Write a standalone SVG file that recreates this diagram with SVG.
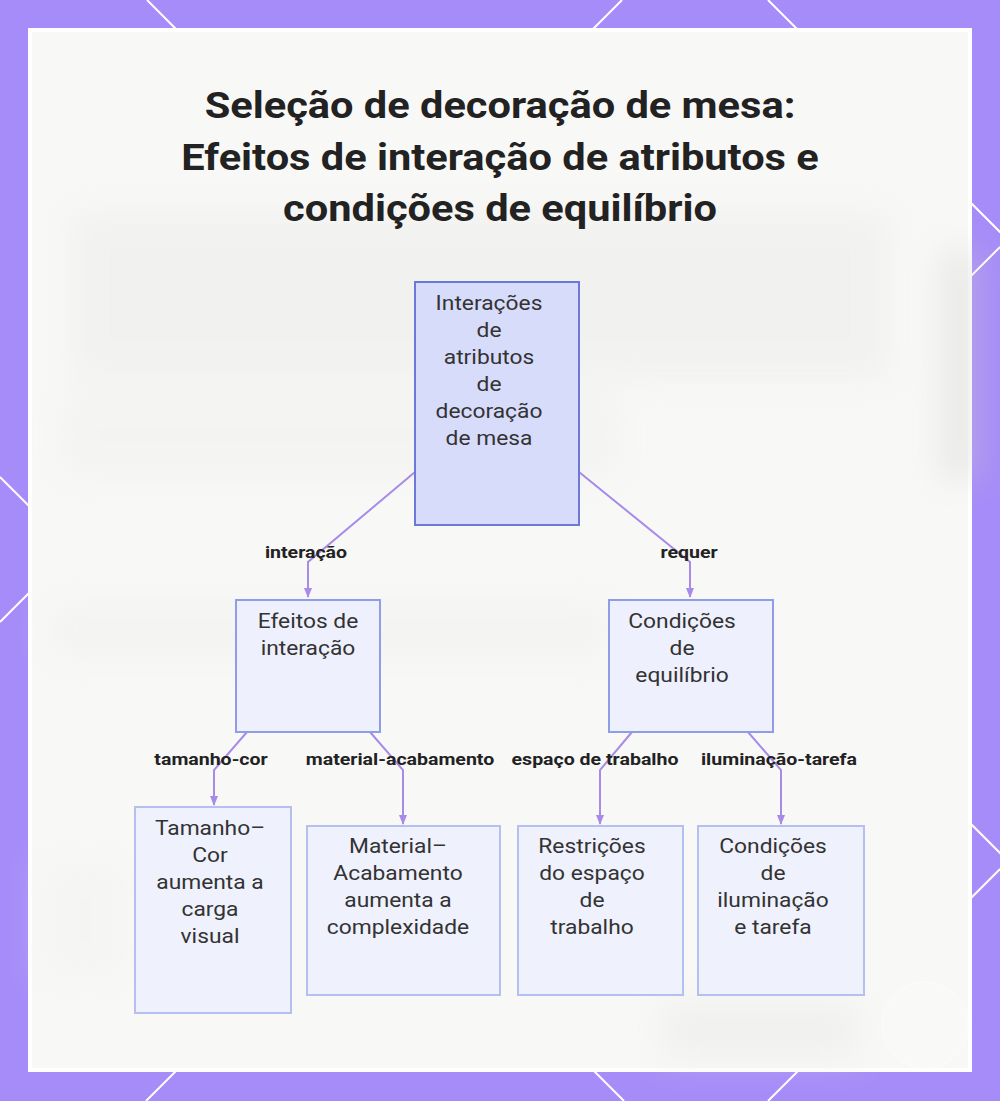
<svg xmlns="http://www.w3.org/2000/svg" width="1000" height="1101" viewBox="0 0 1000 1101">
<defs>
<style>
.title{font-family:Roboto,"Liberation Sans",sans-serif;font-weight:700;font-size:36px;fill:#222;text-anchor:middle}
.nt{font-family:Roboto,"Liberation Sans",sans-serif;font-size:20px;fill:#333;text-anchor:middle}
.el{font-family:Roboto,"Liberation Sans",sans-serif;font-weight:700;font-size:17px;fill:#222;text-anchor:middle}
.edge{fill:none;stroke:#a88be9;stroke-width:2}
.n0{fill:#d8dcfb;stroke:#6d79d8;stroke-width:2}
.n1{fill:#eef1fd;stroke:#8f9ce6;stroke-width:2}
.n2{fill:#eff1fd;stroke:#b6bff1;stroke-width:2}
.lat{stroke:#ffffff;stroke-width:2}
</style>
<marker id="arr" viewBox="0 0 10 10" refX="9" refY="5" markerWidth="5" markerHeight="5" orient="auto">
<path d="M0,1 L10,5 L0,9 z" fill="#a88be9"/>
</marker>
<filter id="blur" x="-20%" y="-20%" width="140%" height="140%"><feGaussianBlur stdDeviation="16"/></filter>
</defs>
<rect x="0" y="0" width="1000" height="1101" fill="#a68cf8"/>
<g id="lattice">
<line class="lat" x1="147" y1="0" x2="1248" y2="1101"/>
<line class="lat" x1="768" y1="0" x2="1869" y2="1101"/>
<line class="lat" x1="0" y1="477" x2="624" y2="1101"/>
<line class="lat" x1="622" y1="0" x2="0" y2="622"/>
<line class="lat" x1="1000" y1="247" x2="146" y2="1101"/>
<line class="lat" x1="1000" y1="869" x2="768" y2="1101"/>
</g>
<rect x="28" y="28" width="944" height="1044" fill="#ffffff"/>
<rect x="32" y="32" width="936" height="1036" fill="#f8f8f7"/>
<g id="photo" filter="url(#blur)" opacity="0.35">
<rect x="70" y="210" width="820" height="170" fill="#e6e6e4"/>
<rect x="60" y="390" width="560" height="90" fill="#ececea"/>
<rect x="940" y="250" width="40" height="230" fill="#cfcfcd"/>
<rect x="50" y="600" width="560" height="60" fill="#ececeb"/>
<rect x="660" y="1000" width="200" height="60" fill="#e4e4e2"/>
<rect x="40" y="860" width="90" height="120" fill="#efefed"/>
</g>
<circle cx="925" cy="1025" r="43" fill="#f9f9f8" stroke="#fbfbfb" stroke-width="1.5"/>
<g id="title">
<text class="title" transform="matrix(1.155 0 0 1 500 118)">Seleção de decoração de mesa:</text>
<text class="title" transform="matrix(1.155 0 0 1 500 170)">Efeitos de interação de atributos e</text>
<text class="title" transform="matrix(1.155 0 0 1 500 221)">condições de equilíbrio</text>
</g>
<g id="connectors">
<path class="edge" d="M415,472 L308,562 L308,597" marker-end="url(#arr)"/>
<path class="edge" d="M579,472 L690,562 L690,597" marker-end="url(#arr)"/>
<path class="edge" d="M247,732 L214,770 L214,805" marker-end="url(#arr)"/>
<path class="edge" d="M370,732 L403,770 L403,824" marker-end="url(#arr)"/>
<path class="edge" d="M632,732 L600,770 L600,824" marker-end="url(#arr)"/>
<path class="edge" d="M748,732 L781,770 L781,824" marker-end="url(#arr)"/>
<text class="el" transform="matrix(1.15 0 0 1 306 558)">interação</text>
<text class="el" transform="matrix(1.15 0 0 1 689 558)">requer</text>
<text class="el" transform="matrix(1.15 0 0 1 211 765)">tamanho-cor</text>
<text class="el" transform="matrix(1.15 0 0 1 400 765)">material-acabamento</text>
<text class="el" transform="matrix(1.15 0 0 1 595 765)">espaço de trabalho</text>
<text class="el" transform="matrix(1.15 0 0 1 779 765)">iluminação-tarefa</text>
</g>
<g id="n-root">
<rect class="n0" x="415" y="282" width="164" height="243"/>
<text class="nt" transform="matrix(1.14 0 0 1 489 310)">Interações</text>
<text class="nt" transform="matrix(1.14 0 0 1 489 337)">de</text>
<text class="nt" transform="matrix(1.14 0 0 1 489 364)">atributos</text>
<text class="nt" transform="matrix(1.14 0 0 1 489 391)">de</text>
<text class="nt" transform="matrix(1.14 0 0 1 489 418)">decoração</text>
<text class="nt" transform="matrix(1.14 0 0 1 489 445)">de mesa</text>
</g>
<g id="n-efeitos">
<rect class="n1" x="236" y="600" width="144" height="132"/>
<text class="nt" transform="matrix(1.14 0 0 1 308 628)">Efeitos de</text>
<text class="nt" transform="matrix(1.14 0 0 1 308 655)">interação</text>
</g>
<g id="n-condicoes">
<rect class="n1" x="609" y="600" width="164" height="132"/>
<text class="nt" transform="matrix(1.14 0 0 1 682 628)">Condições</text>
<text class="nt" transform="matrix(1.14 0 0 1 682 655)">de</text>
<text class="nt" transform="matrix(1.14 0 0 1 682 682)">equilíbrio</text>
</g>
<g id="n-tamanho">
<rect class="n2" x="135" y="807" width="156" height="206"/>
<text class="nt" transform="matrix(1.14 0 0 1 210 835)">Tamanho–</text>
<text class="nt" transform="matrix(1.14 0 0 1 210 862)">Cor</text>
<text class="nt" transform="matrix(1.14 0 0 1 210 889)">aumenta a</text>
<text class="nt" transform="matrix(1.14 0 0 1 210 916)">carga</text>
<text class="nt" transform="matrix(1.14 0 0 1 210 943)">visual</text>
</g>
<g id="n-material">
<rect class="n2" x="307" y="826" width="193" height="169"/>
<text class="nt" transform="matrix(1.14 0 0 1 398 853)">Material–</text>
<text class="nt" transform="matrix(1.14 0 0 1 398 880)">Acabamento</text>
<text class="nt" transform="matrix(1.14 0 0 1 398 907)">aumenta a</text>
<text class="nt" transform="matrix(1.14 0 0 1 398 934)">complexidade</text>
</g>
<g id="n-restricoes">
<rect class="n2" x="518" y="826" width="165" height="169"/>
<text class="nt" transform="matrix(1.14 0 0 1 592 853)">Restrições</text>
<text class="nt" transform="matrix(1.14 0 0 1 592 880)">do espaço</text>
<text class="nt" transform="matrix(1.14 0 0 1 592 907)">de</text>
<text class="nt" transform="matrix(1.14 0 0 1 592 934)">trabalho</text>
</g>
<g id="n-iluminacao">
<rect class="n2" x="698" y="826" width="166" height="169"/>
<text class="nt" transform="matrix(1.14 0 0 1 773 853)">Condições</text>
<text class="nt" transform="matrix(1.14 0 0 1 773 880)">de</text>
<text class="nt" transform="matrix(1.14 0 0 1 773 907)">iluminação</text>
<text class="nt" transform="matrix(1.14 0 0 1 773 934)">e tarefa</text>
</g>
</svg>
